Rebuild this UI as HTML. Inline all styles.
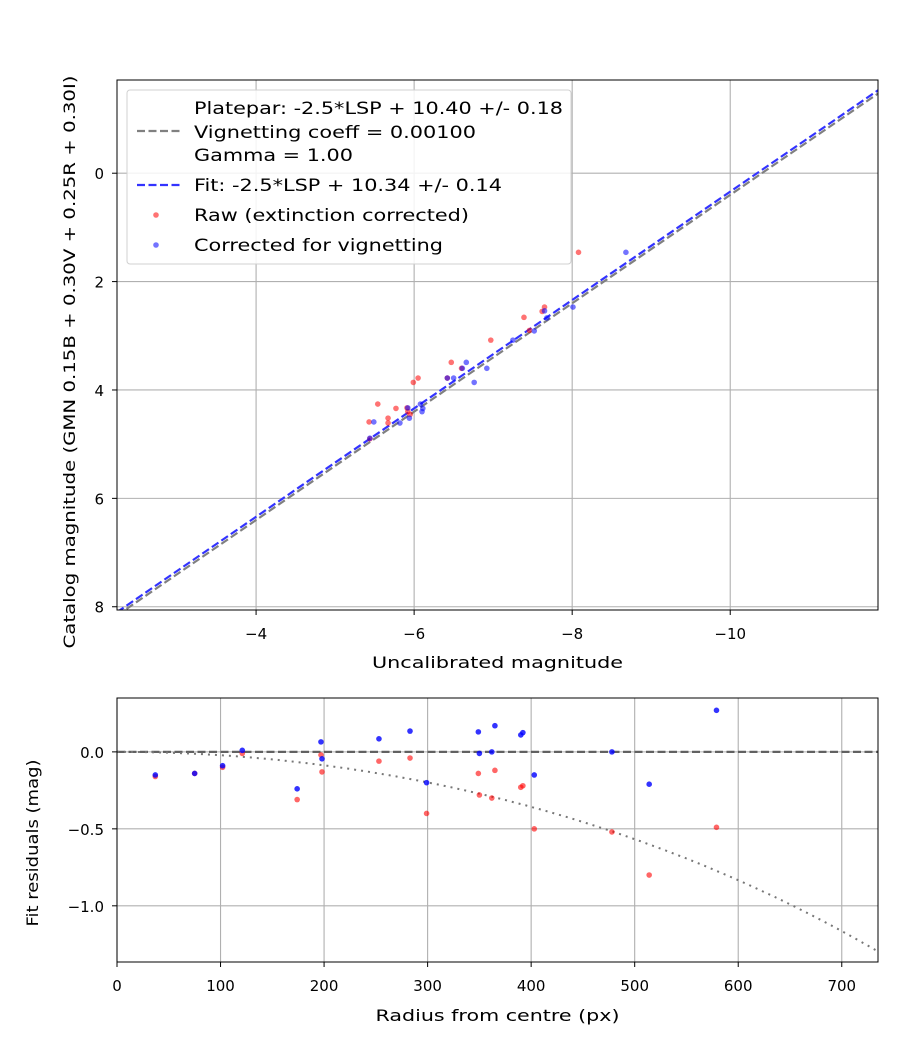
<!DOCTYPE html>
<html><head><meta charset="utf-8"><style>
body{margin:0;background:#fff;}
svg{display:block;font-family:"DejaVu Sans","Liberation Sans",sans-serif;}
</style></head><body>
<svg id="fig" width="900" height="1050" viewBox="0 0 900 1050"></svg>
<script>
// ---- top chart data ----
const rawX = [-8.08,-7.65,-7.39,-7.46,-6.97,-6.47,-6.60,-6.42,-6.05,-5.99,-5.54,-5.77,-5.67,-5.67,-5.43,-5.91,-5.92,-5.44,-7.62,-5.95];
const rawY = [1.46,2.47,2.66,2.90,3.08,3.49,3.60,3.78,3.78,3.86,4.26,4.34,4.52,4.61,4.59,4.33,4.40,4.90,2.55,4.45];
const corrX = [-8.68,-8.01,-7.65,-7.68,-7.52,-7.25,-6.66,-6.61,-6.92,-6.76,-6.42,-6.50,-6.08,-6.11,-6.10,-5.94,-5.82,-5.49,-5.92,-5.44];
const corrY = [1.46,2.47,2.54,2.67,2.91,3.08,3.49,3.60,3.60,3.86,3.78,3.78,4.26,4.34,4.40,4.52,4.61,4.59,4.33,4.89];
const platepar = 10.40, fitZP = 10.34;
const topXTicks = [-4,-6,-8,-10];
const topYTicks = [0,2,4,6,8];
// ---- residual chart data ----
const resR = [37,75,102,121,174,197,198,253,283,299,349,350,362,365,390,392,403,478,514,579];
const resRaw = [-0.16,-0.14,-0.10,-0.01,-0.31,-0.02,-0.13,-0.06,-0.04,-0.40,-0.14,-0.28,-0.30,-0.12,-0.23,-0.22,-0.50,-0.52,-0.80,-0.49];
const resCorr = [-0.15,-0.14,-0.09,0.01,-0.24,0.065,-0.045,0.085,0.135,-0.20,0.13,-0.01,0.0,0.17,0.11,0.125,-0.15,0.0,-0.21,0.27];
const vigCoeff = 0.001;
const botXTicks = [0,100,200,300,400,500,600,700];
const botYTicks = [0.0,-0.5,-1.0];

const NS="http://www.w3.org/2000/svg";
const svg=document.getElementById('fig');
function el(tag,attrs,parent){const e=document.createElementNS(NS,tag);for(const k in attrs)e.setAttribute(k,attrs[k]);(parent||svg).appendChild(e);return e;}
function txt(s,attrs,parent){const e=el('text',attrs,parent);e.textContent=s;return e;}

// top axes
const T={l:117,r:878,t:80,b:610,x0:-2.24,x1:-11.87,y0:-1.72,y1:8.06};
const tx=v=>T.l+(v-T.x0)/(T.x1-T.x0)*(T.r-T.l);
const ty=v=>T.t+(v-T.y0)/(T.y1-T.y0)*(T.b-T.t);
const gTop=el('g',{});


el('clipPath',{id:'ct'},gTop).appendChild(el('rect',{x:T.l,y:T.t,width:T.r-T.l,height:T.b-T.t},gTop));
topXTicks.forEach(v=>{
  const g=el('line',{x1:tx(v),x2:tx(v),y1:T.t,y2:T.b,stroke:'#b0b0b0','stroke-width':1.1},gTop);
  
  el('line',{x1:tx(v),x2:tx(v),y1:T.b,y2:T.b+5,stroke:'#000'},gTop);
  const t=txt('\u2212'+Math.abs(v),{x:tx(v),y:T.b+29,'text-anchor':'middle','font-size':15},gTop);
  
});
topYTicks.forEach(v=>{
  const g=el('line',{x1:T.l,x2:T.r,y1:ty(v),y2:ty(v),stroke:'#b0b0b0','stroke-width':1.1},gTop);
  
  el('line',{x1:T.l-5,x2:T.l,y1:ty(v),y2:ty(v),stroke:'#000'},gTop);
  const t=txt(String(v),{x:T.l-13,y:ty(v)+6,'text-anchor':'end','font-size':15},gTop);
  
});
const cT=el('g',{'clip-path':'url(#ct)'},gTop);
const pp=el('line',{x1:tx(T.x0),y1:ty(T.x0+platepar),x2:tx(T.x1),y2:ty(T.x1+platepar),stroke:'#808080','stroke-width':2.2,'stroke-dasharray':'8,3.5'},cT);

const fl=el('line',{x1:tx(T.x0),y1:ty(T.x0+fitZP),x2:tx(T.x1),y2:ty(T.x1+fitZP),stroke:'#3333ff','stroke-width':2.2,'stroke-dasharray':'8,3.5'},cT);

rawX.forEach((x,i)=>{const c=el('circle',{cx:tx(x),cy:ty(rawY[i]),r:2.8,fill:'rgba(255,0,0,0.55)'},cT);
  });
corrX.forEach((x,i)=>{const c=el('circle',{cx:tx(x),cy:ty(corrY[i]),r:2.8,fill:'rgba(0,0,255,0.55)'},cT);
  });
el('rect',{x:T.l,y:T.t,width:T.r-T.l,height:T.b-T.t,fill:'none',stroke:'#000','stroke-width':1},gTop);
const xl=txt('Uncalibrated magnitude',{x:(T.l+T.r)/2,y:668,'text-anchor':'middle','font-size':16,textLength:251,lengthAdjust:'spacingAndGlyphs'},gTop);

const yl=txt('Catalog magnitude (GMN 0.15B + 0.30V + 0.25R + 0.30I)',{x:0,y:0,'text-anchor':'middle','font-size':16,textLength:573,lengthAdjust:'spacingAndGlyphs',transform:'translate(75,362) rotate(-90)'},gTop);


// legend
const lg=el('g',{},gTop);

el('rect',{x:127,y:90,width:444,height:174,rx:3,fill:'rgba(255,255,255,0.85)',stroke:'#d0d0d0'},lg);
const fs=16.7;
function lt(s,y,w){return txt(s,{x:194,y:y,'font-size':fs,textLength:w,lengthAdjust:'spacingAndGlyphs'},lg);}
lt('Platepar: -2.5*LSP + 10.40 +/- 0.18',114,369);
lt('Vignetting coeff = 0.00100',138,282);
lt('Gamma = 1.00',161,159);
el('line',{x1:137,x2:181,y1:131,y2:131,stroke:'#808080','stroke-width':2.2,'stroke-dasharray':'8,3.5'},lg);
lt('Fit: -2.5*LSP + 10.34 +/- 0.14',191,308);
el('line',{x1:137,x2:181,y1:185,y2:185,stroke:'#3333ff','stroke-width':2.2,'stroke-dasharray':'8,3.5'},lg);
lt('Raw (extinction corrected)',221,275);
el('circle',{cx:156,cy:215,r:2.8,fill:'rgba(255,0,0,0.55)'},lg);
lt('Corrected for vignetting',251,249);
el('circle',{cx:156,cy:245,r:2.8,fill:'rgba(0,0,255,0.55)'},lg);

// bottom axes
const B={l:117,r:878,t:698,b:962,x0:0,x1:735,y0:0.35,y1:-1.365};
const bx=v=>B.l+(v-B.x0)/(B.x1-B.x0)*(B.r-B.l);
const by=v=>B.t+(v-B.y0)/(B.y1-B.y0)*(B.b-B.t);
const gB=el('g',{});

el('clipPath',{id:'cb'},gB).appendChild(el('rect',{x:B.l,y:B.t,width:B.r-B.l,height:B.b-B.t},gB));
botXTicks.forEach(v=>{
  const g=el('line',{x1:bx(v),x2:bx(v),y1:B.t,y2:B.b,stroke:'#b0b0b0','stroke-width':1.1},gB);
  
  el('line',{x1:bx(v),x2:bx(v),y1:B.b,y2:B.b+5,stroke:'#000'},gB);
  const t=txt(String(v),{x:bx(v),y:B.b+29,'text-anchor':'middle','font-size':15},gB);
  
});
botYTicks.forEach(v=>{
  const g=el('line',{x1:B.l,x2:B.r,y1:by(v),y2:by(v),stroke:'#b0b0b0','stroke-width':1.1},gB);
  
  el('line',{x1:B.l-5,x2:B.l,y1:by(v),y2:by(v),stroke:'#000'},gB);
  const t=txt((v<0?'\u2212':'')+Math.abs(v).toFixed(1),{x:B.l-13,y:by(v)+6,'text-anchor':'end','font-size':15},gB);
  
});
const cB=el('g',{'clip-path':'url(#cb)'},gB);
const zl=el('line',{x1:B.l,x2:B.r,y1:by(0),y2:by(0),stroke:'#555','stroke-width':2.2,'stroke-dasharray':'8,3.5','opacity':0.9},cB);

let d='';for(let r=0;r<=735;r+=5){const v=2.5*Math.log10(Math.pow(Math.cos(r*vigCoeff),4));d+=(r?'L':'M')+bx(r).toFixed(1)+','+by(v).toFixed(1);}
const vc=el('path',{d:d,fill:'none',stroke:'#777','stroke-width':2,'stroke-dasharray':'2,5'},cB);

resR.forEach((r,i)=>{const c=el('circle',{cx:bx(r),cy:by(resRaw[i]),r:2.8,fill:'rgba(255,0,0,0.6)'},cB);
  });
resR.forEach((r,i)=>{const c=el('circle',{cx:bx(r),cy:by(resCorr[i]),r:2.8,fill:'rgba(0,0,255,0.8)'},cB);
  });
el('rect',{x:B.l,y:B.t,width:B.r-B.l,height:B.b-B.t,fill:'none',stroke:'#000','stroke-width':1},gB);
const bxl=txt('Radius from centre (px)',{x:(B.l+B.r)/2,y:1021,'text-anchor':'middle','font-size':16,textLength:244,lengthAdjust:'spacingAndGlyphs'},gB);

const byl=txt('Fit residuals (mag)',{x:0,y:0,'text-anchor':'middle','font-size':16,textLength:167,lengthAdjust:'spacingAndGlyphs',transform:'translate(38,843) rotate(-90)'},gB);

</script>
</body></html>
